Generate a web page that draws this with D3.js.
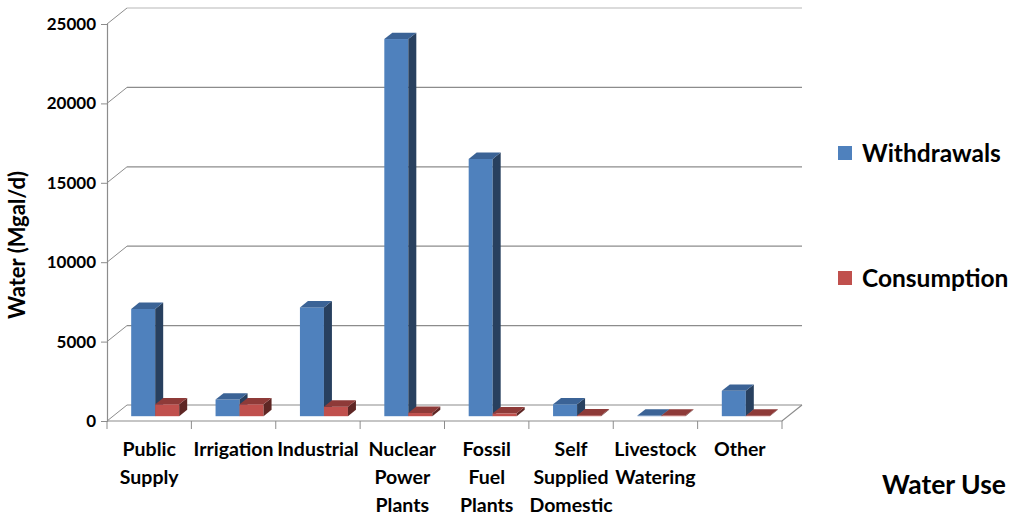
<!DOCTYPE html>
<html>
<head>
<meta charset="utf-8">
<script src="https://cdn.jsdelivr.net/npm/d3@7/dist/d3.min.js"></script>
<style>
  html, body { margin: 0; padding: 0; background: #fff; }
  svg text { font-family: Lato, "Open Sans", sans-serif; font-weight: 700; fill: #000; }
</style>
</head>
<body>
<svg id="chart" width="1012" height="518"></svg>
<script>
// Water use by category, Mgal/d
const categories = [
  ["Public", "Supply"],
  ["Irrigation"],
  ["Industrial"],
  ["Nuclear", "Power", "Plants"],
  ["Fossil", "Fuel", "Plants"],
  ["Self", "Supplied", "Domestic"],
  ["Livestock", "Watering"],
  ["Other"]
];
const withdrawals = [6750, 1050, 6850, 23750, 16200, 750, 40, 1600];
const consumption = [750, 750, 600, 200, 180, 50, 40, 30];
const seriesNames = ["Withdrawals", "Consumption"];
const yTicks = [0, 5000, 10000, 15000, 20000, 25000];

// Face colours for each series: front, side, top
const palette = [
  { front: "#4F81BD", side: "#28405F", top: "#3B6396" },
  { front: "#C0504D", side: "#5E2624", top: "#8E3A38" }
];

const svg = d3.select("#chart");

// Floor geometry (front-left corner, width, depth vector)
const x0 = 107, floorY = 421, plotW = 675;
const depthX = 20, depthY = -16;
const barFront = 0.3, barBack = 0.7;

const y = d3.scaleLinear().domain([0, 25000]).range([floorY, 24]);
const x = d3.scaleBand().domain(d3.range(categories.length)).range([x0, x0 + plotW]);
const sub = d3.scaleBand().domain([0, 1]).range([0, 48]);

// Back wall gridlines and the diagonal connectors to the front axis
const grid = svg.append("g");
yTicks.forEach((t, i) => {
  const stroke = i === yTicks.length - 1 ? "#b8b8b8" : "#8c8c8c";
  grid.append("line")
    .attr("x1", x0 + depthX).attr("x2", x0 + plotW + depthX)
    .attr("y1", y(t) + depthY).attr("y2", y(t) + depthY)
    .attr("stroke", stroke).attr("stroke-width", 1.2);
  grid.append("line")
    .attr("x1", x0).attr("x2", x0 + depthX)
    .attr("y1", y(t)).attr("y2", y(t) + depthY)
    .attr("stroke", "#8c8c8c").attr("stroke-width", 1);
});

// Floor front and right edges
grid.append("path")
  .attr("d", `M${x0},${floorY}H${x0 + plotW}L${x0 + plotW + depthX},${floorY + depthY}`)
  .attr("fill", "none").attr("stroke", "#8c8c8c").attr("stroke-width", 1.2);

// Category ticks below the floor
x.domain().concat([categories.length]).forEach(i => {
  const xx = x0 + i * x.bandwidth();
  grid.append("line")
    .attr("x1", xx).attr("x2", xx)
    .attr("y1", floorY).attr("y2", floorY + 8)
    .attr("stroke", "#8c8c8c").attr("stroke-width", 1);
});

// Value axis on the left
const yAxis = svg.append("g")
  .attr("transform", `translate(${x0},0)`)
  .call(d3.axisLeft(y).tickValues(yTicks).tickSize(6).tickPadding(5).tickFormat(d3.format("d")));
yAxis.select(".domain").attr("stroke", "#8c8c8c").attr("stroke-width", 1.2);
yAxis.selectAll(".tick line").attr("stroke", "#8c8c8c");
yAxis.selectAll(".tick text")
  .style("font-family", "Lato, sans-serif").style("font-weight", 700)
  .style("font-size", "17px").attr("fill", "#000");

// 3D bars
const fOffX = depthX * barFront, fOffY = depthY * barFront;
const dX = depthX * (barBack - barFront), dY = depthY * (barBack - barFront);
const bars = svg.append("g");
categories.forEach((c, i) => {
  [withdrawals[i], consumption[i]].forEach((v, s) => {
    const col = palette[s];
    const xl = x(i) + (x.bandwidth() - 48) / 2 + sub(s) + fOffX;
    const xr = xl + sub.bandwidth();
    const yb = y(0) + fOffY;
    const yt = y(v) + fOffY;
    const g = bars.append("g");
    g.append("rect")
      .attr("x", xl).attr("y", yt).attr("width", xr - xl).attr("height", yb - yt)
      .attr("fill", col.front);
    g.append("path")
      .attr("d", `M${xr},${yt}L${xr + dX},${yt + dY}L${xr + dX},${yb + dY}L${xr},${yb}Z`)
      .attr("fill", col.side);
    g.append("path")
      .attr("d", `M${xl},${yt}L${xr},${yt}L${xr + dX},${yt + dY}L${xl + dX},${yt + dY}Z`)
      .attr("fill", col.top);
  });
});

// Category labels
const labels = svg.append("g");
categories.forEach((lines, i) => {
  const cx = x(i) + x.bandwidth() / 2;
  lines.forEach((ln, k) => {
    labels.append("text")
      .attr("x", cx).attr("y", 456 + k * 28)
      .attr("text-anchor", "middle")
      .style("font-size", "19.5px")
      .text(ln);
  });
});

// Axis titles
svg.append("text")
  .attr("transform", "translate(25,245) rotate(-90)")
  .attr("text-anchor", "middle")
  .style("font-size", "22px")
  .text("Water (Mgal/d)");
svg.append("text")
  .attr("x", 1006).attr("y", 494)
  .attr("text-anchor", "end")
  .style("font-size", "26.5px")
  .text("Water Use");

// Legend
const legend = svg.append("g");
seriesNames.forEach((name, s) => {
  const ly = 153 + s * 125;
  legend.append("rect")
    .attr("x", 838).attr("y", ly - 7).attr("width", 14).attr("height", 14)
    .attr("fill", palette[s].front);
  legend.append("text")
    .attr("x", 862).attr("y", ly + 9)
    .style("font-size", "24.5px")
    .text(name);
});
</script>
</body>
</html>
